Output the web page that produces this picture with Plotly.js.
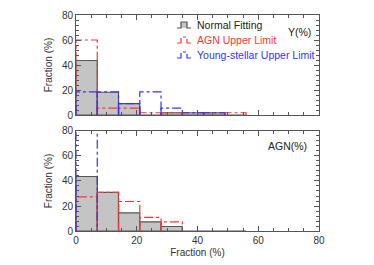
<!DOCTYPE html>
<html>
<head>
<meta charset="utf-8">
<script src="https://cdn.plot.ly/plotly-3.0.1.min.js"></script>
<style>html,body{margin:0;padding:0;background:#fff;}#chart{width:374px;height:265px;}</style>
</head>
<body>
<div id="chart"></div>
<script>
// bin edges (left) of the histograms, width 7 %
const binWidth = 7;
const binStarts = [0, 7, 14, 21, 28, 35, 42, 49];

// Top panel: Y(%)
const yNormal  = [43.6, 18.2, 9.1, 0, 1.8, 1.8, 1.8, 0];
const yAGN     = [60.0, 5.5, 5.5, 1.8, 1.8, 1.8, 1.8, 1.8];
const yYoung   = [18.5, 18.5, 9.1, 18.5, 5.5, 1.8, 1.8, 0];

// Bottom panel: AGN(%)
const aNormal  = [43.6, 30.9, 14.5, 7.3, 3.6, 0, 0, 0];
const aAGN     = [27.3, 30.9, 23.6, 10.9, 7.3, 0, 0, 0];
const aYoung   = [100, 0, 0, 0, 0, 0, 0, 0];

const xTicks = [0, 20, 40, 60, 80];
const yTicks = [0, 20, 40, 60, 80];

const seriesNames = ['Normal Fitting', 'AGN Upper Limit', 'Young-stellar Upper Limit'];
const panelLabels = ['Y(%)', 'AGN(%)'];

const RED = '#ff3333', BLUE = '#3333ff', GREY_FILL = '#c4c4c4', GREY_LINE = '#555555';

// step outline path of a histogram (each bar outlined down to zero)
function outline(vals) {
  const xs = [], ys = [];
  vals.forEach((v, i) => {
    if (v <= 0) return;
    const a = binStarts[i], b = binStarts[i] + binWidth;
    xs.push(a, a, b, b, null);
    ys.push(0, v, v, 0, null);
  });
  return {x: xs, y: ys};
}
const centers = binStarts.map(s => s + binWidth / 2);

function barTrace(vals, xa, ya) {
  return {type: 'bar', x: centers, y: vals, width: binWidth, xaxis: xa, yaxis: ya,
    marker: {color: GREY_FILL, line: {color: GREY_LINE, width: 1.2}},
    name: seriesNames[0], showlegend: false, hoverinfo: 'skip'};
}
function lineTrace(vals, xa, ya, color, name) {
  const o = outline(vals);
  return {type: 'scatter', mode: 'lines', x: o.x, y: o.y, xaxis: xa, yaxis: ya,
    line: {color: color, width: 1.2, dash: 'dashdot'}, connectgaps: false,
    name: name, showlegend: false, hoverinfo: 'skip'};
}

const data = [
  barTrace(yNormal, 'x', 'y'),
  lineTrace(yAGN, 'x', 'y', RED, seriesNames[1]),
  lineTrace(yYoung, 'x', 'y', BLUE, seriesNames[2]),
  barTrace(aNormal, 'x2', 'y2'),
  lineTrace(aAGN, 'x2', 'y2', RED, seriesNames[1]),
  lineTrace(aYoung, 'x2', 'y2', BLUE, seriesNames[2])
];

const fontFam = 'Liberation Sans, Arial, sans-serif';
const axCommon = {
  showgrid: false, zeroline: false, showline: true, linecolor: '#555', linewidth: 1,
  mirror: 'ticks', ticks: 'inside', ticklen: 5, tickcolor: '#555', tickwidth: 1,
  tickfont: {family: fontFam, size: 10, color: '#333'}
};
function xAxis(anchor, showLabels) {
  return Object.assign({}, axCommon, {
    range: [0, 80], tickvals: xTicks, ticktext: xTicks.map(String), anchor: anchor,
    showticklabels: showLabels,
    minor: {dtick: 5, ticklen: 3, tickcolor: '#555', ticks: 'inside'}
  });
}
function yAxis(anchor, domain) {
  return Object.assign({}, axCommon, {
    range: [0, 80], tickvals: yTicks, ticktext: yTicks.map(String), anchor: anchor, domain: domain,
    minor: {dtick: 4, ticklen: 3, tickcolor: '#555', ticks: 'inside'},
    title: {text: 'Fraction (%)', font: {family: fontFam, size: 10, color: '#333'}, standoff: 7}
  });
}

// manual legend (pixel -> paper conversion for legend glyph placement)
const L = 76, R = 319, T = 15, B = 231;
const px = v => (v - L) / (R - L);
const py = v => (B - v) / (B - T);
const legendColors = [GREY_LINE, RED, BLUE];
const legendRows = [25, 40, 55];
const shapes = [], annotations = [];
legendRows.forEach((yc, i) => {
  const x0 = 177, x1 = 191, lo = yc + 3, hi = yc - 3;
  const path = 'M' + px(x0) + ',' + py(lo) + ' L' + px(x0 + 4) + ',' + py(lo) + ' L' + px(x0 + 4) + ',' + py(hi) +
    ' L' + px(x1 - 4) + ',' + py(hi) + ' L' + px(x1 - 4) + ',' + py(lo) + ' L' + px(x1) + ',' + py(lo);
  if (i === 0) {
    shapes.push({type: 'rect', xref: 'paper', yref: 'paper', x0: px(x0 + 4), x1: px(x1 - 4), y0: py(lo), y1: py(hi),
      fillcolor: GREY_FILL, line: {width: 0}});
  }
  shapes.push({type: 'path', xref: 'paper', yref: 'paper', path: path,
    line: {color: legendColors[i], width: 1.2, dash: i === 0 ? 'solid' : 'dashdot'}});
  annotations.push({text: seriesNames[i], xref: 'paper', yref: 'paper', x: px(195), y: py(yc),
    xanchor: 'left', yanchor: 'middle', showarrow: false,
    font: {family: fontFam, size: 10.5, color: i === 0 ? '#222' : legendColors[i]}});
});
annotations.push(
  {text: panelLabels[0], xref: 'x domain', yref: 'y domain', x: 0.975, y: 0.83, xanchor: 'right', yanchor: 'middle',
   showarrow: false, font: {family: fontFam, size: 10.5, color: '#222'}},
  {text: panelLabels[1], xref: 'x2 domain', yref: 'y2 domain', x: 0.958, y: 0.85, xanchor: 'right', yanchor: 'middle',
   showarrow: false, font: {family: fontFam, size: 10.5, color: '#222'}}
);

const layout = {
  width: 374, height: 265,
  margin: {l: 76, r: 55, t: 15, b: 34},
  paper_bgcolor: '#fff', plot_bgcolor: '#fff',
  barmode: 'overlay', bargap: 0,
  xaxis: xAxis('y', false),
  yaxis: yAxis('x', [0.537, 1]),
  xaxis2: Object.assign(xAxis('y2', true), {title: {text: 'Fraction (%)', font: {family: fontFam, size: 10, color: '#333'}, standoff: 3}}),
  yaxis2: yAxis('x2', [0, 0.463]),
  shapes: shapes,
  annotations: annotations,
  showlegend: false
};

Plotly.newPlot('chart', data, layout, {displayModeBar: false, staticPlot: true});
</script>
</body>
</html>
